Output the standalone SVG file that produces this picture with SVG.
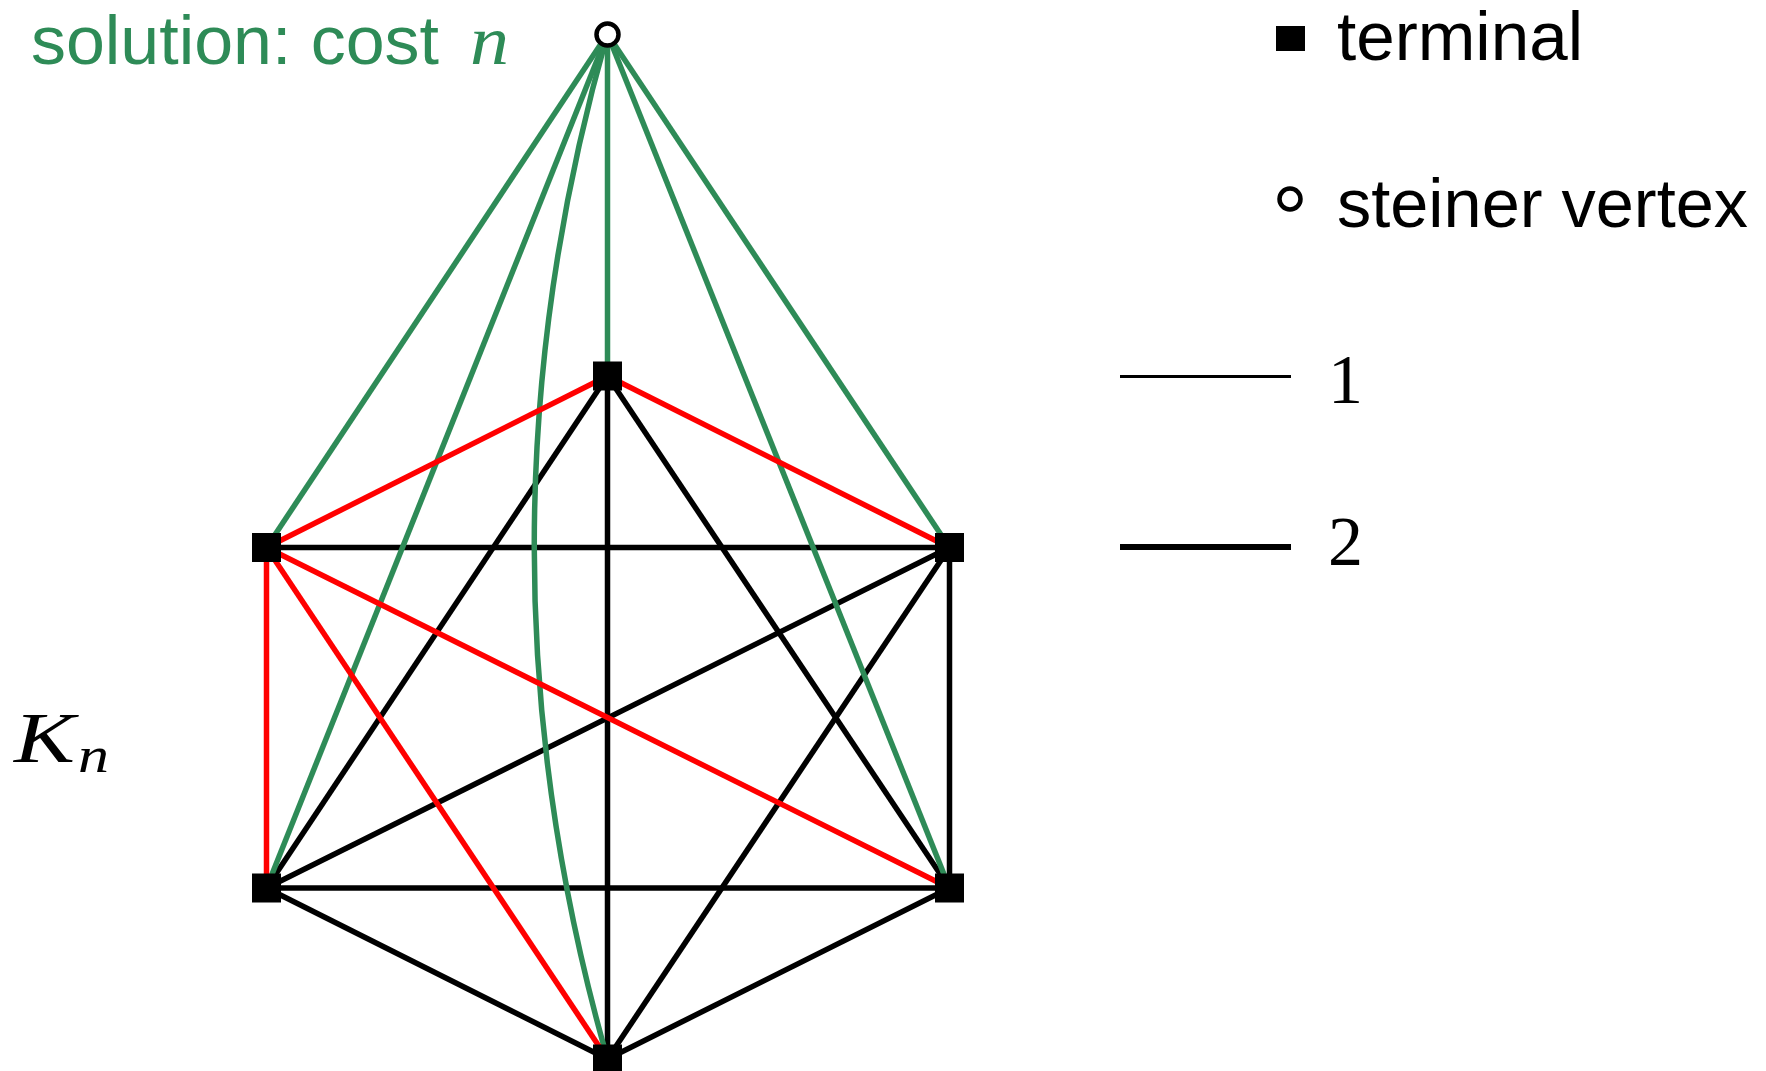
<svg xmlns="http://www.w3.org/2000/svg" width="1766" height="1071" viewBox="0 0 1766 1071">
<style>
.blk{stroke:#000;stroke-width:5.5;fill:none}
.red{stroke:#ff0000;stroke-width:5.5;fill:none}
.grn{stroke:#2e8b57;stroke-width:5.5;fill:none}
.term{fill:#000}
.stn{fill:#fff;stroke:#000;stroke-width:4.5}
.sans{font-family:"Liberation Sans","DejaVu Sans",sans-serif;font-size:68px}
.ser{font-family:"Liberation Serif","DejaVu Serif",serif}
</style>
<rect width="1766" height="1071" fill="#fff"/>
<g id="connectors">
<g id="black-edges">
<line class="blk" x1="607.5" y1="376" x2="266.5" y2="888"/>
<line class="blk" x1="607.5" y1="376" x2="607.5" y2="1059"/>
<line class="blk" x1="607.5" y1="376" x2="949.5" y2="888"/>
<line class="blk" x1="266.5" y1="547.5" x2="949.5" y2="547.5"/>
<line class="blk" x1="949.5" y1="547.5" x2="266.5" y2="888"/>
<line class="blk" x1="949.5" y1="547.5" x2="949.5" y2="888"/>
<line class="blk" x1="949.5" y1="547.5" x2="607.5" y2="1059"/>
<line class="blk" x1="266.5" y1="888" x2="949.5" y2="888"/>
<line class="blk" x1="266.5" y1="888" x2="607.5" y2="1059"/>
<line class="blk" x1="949.5" y1="888" x2="607.5" y2="1059"/>
</g>
<g id="green-edges">
<line class="grn" x1="607.5" y1="34" x2="266.5" y2="547.5"/>
<line class="grn" x1="607.5" y1="34" x2="266.5" y2="888"/>
<line class="grn" x1="607.5" y1="34" x2="607.5" y2="376"/>
<line class="grn" x1="607.5" y1="34" x2="949.5" y2="547.5"/>
<line class="grn" x1="607.5" y1="34" x2="949.5" y2="888"/>
<path class="grn" d="M607.5,34 Q461,546.5 607.5,1059"/>
</g>
<g id="red-edges">
<line class="red" x1="607.5" y1="376" x2="266.5" y2="547.5"/>
<line class="red" x1="607.5" y1="376" x2="949.5" y2="547.5"/>
<line class="red" x1="266.5" y1="547.5" x2="266.5" y2="888"/>
<line class="red" x1="266.5" y1="547.5" x2="607.5" y2="1059"/>
<line class="red" x1="266.5" y1="547.5" x2="949.5" y2="888"/>
</g>
</g>
<g id="node-steiner"><circle class="stn" cx="607.5" cy="34.5" r="11"/></g>
<g id="node-top"><rect class="term" x="593" y="361.5" width="29" height="29"/></g>
<g id="node-upper-left"><rect class="term" x="252" y="533" width="29" height="29"/></g>
<g id="node-upper-right"><rect class="term" x="935" y="533" width="29" height="29"/></g>
<g id="node-lower-left"><rect class="term" x="252" y="873.5" width="29" height="29"/></g>
<g id="node-lower-right"><rect class="term" x="935" y="873.5" width="29" height="29"/></g>
<g id="node-bottom"><rect class="term" x="593" y="1044.5" width="29" height="29"/></g>
<g id="title">
<text class="sans" x="31" y="64" fill="#2e8b57" font-size="70" textLength="408" lengthAdjust="spacingAndGlyphs">solution: cost</text>
<text class="ser" x="470" y="64" fill="#2e8b57" font-size="70" font-style="italic" textLength="39" lengthAdjust="spacingAndGlyphs">n</text>
</g>
<g id="kn-label">
<text class="ser" x="14" y="762" font-size="72" font-style="italic" textLength="61" lengthAdjust="spacingAndGlyphs">K</text>
<text class="ser" x="78" y="772" font-size="50" font-style="italic" textLength="31" lengthAdjust="spacingAndGlyphs">n</text>
</g>
<g id="legend">
<rect class="term" x="1276" y="26" width="29" height="25"/>
<text class="sans" x="1337" y="60" textLength="246" lengthAdjust="spacingAndGlyphs">terminal</text>
<circle class="stn" cx="1290" cy="199" r="10.5"/>
<text class="sans" x="1337" y="227" textLength="411" lengthAdjust="spacingAndGlyphs">steiner vertex</text>
<line x1="1120" y1="376.5" x2="1291" y2="376.5" stroke="#000" stroke-width="3"/>
<text class="ser" x="1328" y="403" font-size="70">1</text>
<line x1="1120" y1="547" x2="1291" y2="547" stroke="#000" stroke-width="6"/>
<text class="ser" x="1328" y="565" font-size="70">2</text>
</g>
</svg>
